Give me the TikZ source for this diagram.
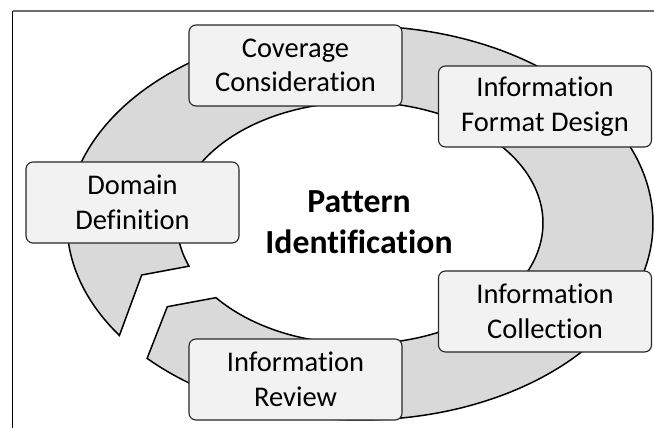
\documentclass[tikz,border=0pt]{standalone}
\usepackage{fontspec}
\setmainfont{Carlito}[RawFeature={-liga;-clig;-dlig}]
\definecolor{ringfill}{HTML}{D9D9D9}
\definecolor{boxfill}{HTML}{F2F2F2}
\definecolor{framegray}{HTML}{6E6E6E}
\begin{document}
\begin{tikzpicture}[x=1pt,y=-1pt,
  stepbox/.style={draw=black!85, line width=1.1pt, fill=boxfill, rounded corners=7pt,
    minimum width=213pt, minimum height=81pt, inner sep=0pt, align=center,
    font=\fontsize{28.5}{34.5}\selectfont},
  ringstyle/.style={draw=black, line width=1.5pt, fill=ringfill, line join=miter}]
\useasboundingbox (0,0) rectangle (654,428);
% frame lines
\coordinate (ftl) at (12.5,11);
\coordinate (ftr) at (654,11);
\coordinate (fbl) at (12.5,428);
\draw[framegray, line width=1.6pt] (ftl) -- (ftr);
\draw[black, line width=1.6pt] (ftl) -- (fbl);
% ring arrow
\coordinate (notchA) at (141.7,275);
\coordinate (notchB) at (167.3,306.7);
\draw[ringstyle]
  plot[domain=0:351.4, samples=240, smooth] ({360+293*cos(136.6-\x)}, {223+197*sin(136.6-\x)})
  -- (notchA)
  -- plot[domain=-200.9:141.9, samples=200, smooth] ({360+183*cos(\x)}, {223+121*sin(\x)})
  -- (notchB) -- cycle;
% boxes
\node[stepbox] (cov) at (295.5,65.5) {Coverage\\Consideration};
\node[stepbox] (ifd) at (545,106.5) {Information\\Format Design};
\node[stepbox] (dom) at (132.5,202.5) {Domain\\Definition};
\node[stepbox] (ico) at (545,311.5) {Information\\Collection};
\node[stepbox] (ire) at (295.5,379.5) {Information\\Review};
% centre title
\node[align=center, font=\fontsize{33.7}{40.5}\selectfont\bfseries] (pid) at (359,222) {Pattern\\Identification};
\end{tikzpicture}
\end{document}
